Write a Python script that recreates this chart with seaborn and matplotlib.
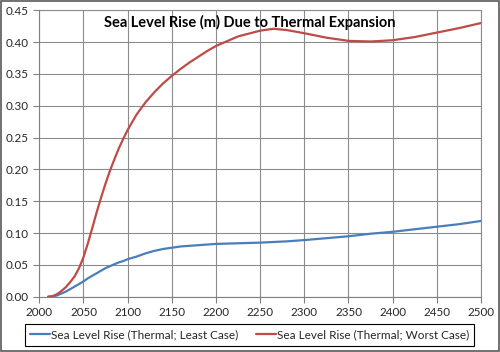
import pandas as pd
import seaborn as sns
import matplotlib.pyplot as plt
from matplotlib.patches import Rectangle

# values
years = [2010, 2015, 2020, 2025, 2030, 2035, 2040, 2045, 2050, 2055,
         2060, 2065, 2070, 2075, 2080, 2085, 2090, 2095, 2100, 2110,
         2120, 2130, 2140, 2150, 2160, 2170, 2180, 2190, 2200, 2225,
         2250, 2265, 2280, 2300, 2325, 2350, 2375, 2400, 2425, 2450,
         2475, 2500]
least_case = [0.000, 0.0005, 0.002, 0.005, 0.008, 0.012, 0.016, 0.020, 0.024, 0.029,
              0.033, 0.037, 0.041, 0.045, 0.048, 0.051, 0.054, 0.056, 0.059, 0.063,
              0.068, 0.072, 0.075, 0.077, 0.079, 0.080, 0.081, 0.082, 0.083, 0.084,
              0.085, 0.086, 0.087, 0.089, 0.092, 0.095, 0.099, 0.102, 0.106, 0.110,
              0.114, 0.119]
worst_case = [0.000, 0.001, 0.004, 0.009, 0.015, 0.023, 0.032, 0.045, 0.062, 0.084,
              0.108, 0.133, 0.156, 0.178, 0.198, 0.216, 0.233, 0.248, 0.262, 0.286,
              0.305, 0.321, 0.335, 0.347, 0.358, 0.368, 0.377, 0.386, 0.394, 0.409,
              0.418, 0.421, 0.419, 0.414, 0.407, 0.402, 0.401, 0.403, 0.408, 0.415,
              0.422, 0.430]

least_label = 'Sea Level Rise (Thermal; Least Case)'
worst_label = 'Sea Level Rise (Thermal; Worst Case)'

df = pd.DataFrame({'Year': years, least_label: least_case, worst_label: worst_case})
df = df.melt(id_vars='Year', var_name='Series', value_name='Rise')

sns.set_style('white')
plt.rcParams['font.family'] = ['Lato', 'DejaVu Sans']

fig = plt.figure(figsize=(5, 3.52), dpi=100)
ax = fig.add_axes([0.0786, 0.157, 0.8834, 0.8137])

sns.lineplot(data=df, x='Year', y='Rise', hue='Series', ax=ax,
             palette=['#4A7EBB', '#BE4B48'], linewidth=1.6, legend=True)

ax.set_xlim(2000, 2500)
ax.set_ylim(0, 0.45)
ax.set_xticks(range(2000, 2501, 50))
ax.set_yticks([i * 0.05 for i in range(10)])
ax.set_yticklabels([f'{i * 0.05:.2f}' for i in range(10)])
ax.grid(True, color='#8c8c8c', linewidth=0.8)
ax.set_axisbelow(True)
ax.set_xlabel('')
ax.set_ylabel('')
for s in ax.spines.values():
    s.set_color('#8c8c8c')
    s.set_linewidth(0.8)
ax.spines['left'].set_color('#808080')
ax.spines['bottom'].set_color('#808080')
ax.tick_params(axis='both', labelsize=8.4, colors='#808080', labelcolor='#262626',
               direction='out', length=4, width=0.8, left=True, bottom=True)

fig.text(0.5, 0.958, 'Sea Level Rise (m) Due to Thermal Expansion',
         ha='center', va='top', fontsize=10.5, fontweight='bold', color='black')

handles, labels = ax.get_legend_handles_labels()
ax.get_legend().remove()
fig.legend(handles, labels, loc='center', bbox_to_anchor=(0.499, 0.048),
           ncol=2, fontsize=8.5, frameon=False,
           handlelength=1.7, handletextpad=0.05, columnspacing=1.5)
fig.patches.append(Rectangle((25 / 500, 1 - 346 / 352), 449 / 500, 22 / 352,
                             transform=fig.transFigure, fill=False,
                             edgecolor='black', linewidth=0.8))

fig.patches.append(Rectangle((0.002, 0.002), 0.995, 0.995, transform=fig.transFigure,
                             fill=False, edgecolor='#595959', linewidth=1.2))

fig.savefig('out.png', dpi=100)
